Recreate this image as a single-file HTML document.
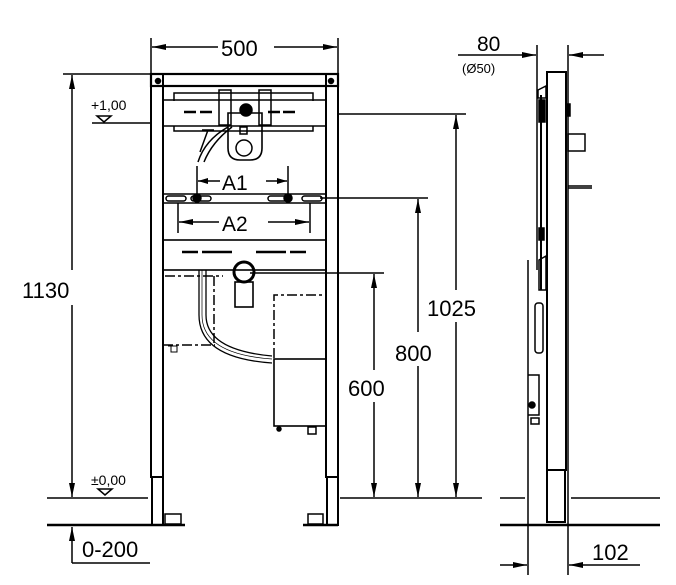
<!DOCTYPE html>
<html><head><meta charset="utf-8"><style>
html,body{margin:0;padding:0;background:#fff;width:676px;height:585px;overflow:hidden}
svg{display:block}
text{font-family:"Liberation Sans",Arial,sans-serif;fill:#000}
</style></head><body>
<svg width="676" height="585" viewBox="0 0 676 585" xmlns="http://www.w3.org/2000/svg">
<defs>
<marker id="a" viewBox="0 0 10 6" refX="10" refY="3" markerWidth="10" markerHeight="6" markerUnits="userSpaceOnUse" orient="auto"><path d="M0,0 L10,3 L0,6 z" fill="#000"/></marker>
<marker id="b" viewBox="0 0 14 6" refX="14" refY="3" markerWidth="14" markerHeight="6" markerUnits="userSpaceOnUse" orient="auto"><path d="M0,0 L14,3 L0,6 z" fill="#000"/></marker>
</defs>
<g stroke="#000" fill="none" stroke-width="1.5">
<line x1="151" y1="38" x2="151" y2="74"/><line x1="338" y1="38" x2="338" y2="74"/>
<line x1="218" y1="47" x2="152" y2="47" marker-end="url(#b)"/>
<line x1="274" y1="47" x2="337" y2="47" marker-end="url(#b)"/>
<line x1="63" y1="74" x2="150" y2="74"/>
<line x1="72" y1="270" x2="72" y2="75" marker-end="url(#b)"/>
<line x1="72" y1="305" x2="72" y2="497" marker-end="url(#b)"/>
<line x1="92" y1="123" x2="150" y2="123"/>
<path d="M97,116 L111,116 L104,122 z"/>
<line x1="47" y1="498" x2="148" y2="498"/>
<path d="M98,489 L112,489 L105,495 z"/>
<line x1="72" y1="563" x2="72" y2="527" marker-end="url(#b)"/>
<line x1="72" y1="563" x2="150" y2="563"/>
<line x1="47" y1="525" x2="185" y2="525" stroke-width="2.6"/>
<line x1="303" y1="525" x2="338" y2="525" stroke-width="2.6"/>
<rect x="151" y="74" width="187" height="12" stroke-width="2.2"/>
<rect x="151" y="74" width="12" height="403" stroke-width="2"/>
<rect x="326" y="74" width="12" height="403" stroke-width="2"/>
<rect x="152" y="477" width="11" height="48" stroke-width="2"/>
<rect x="327" y="477" width="11" height="48" stroke-width="2"/>
<rect x="165" y="514" width="16" height="10" stroke-width="1.5"/>
<rect x="308" y="514" width="15" height="10" stroke-width="1.5"/>
<circle cx="158" cy="81" r="2.5" fill="#000"/><circle cx="331" cy="81" r="2.5" fill="#000"/>
<path d="M174,101 L174,93 L313,93 L313,101"/>
<path d="M174,126 L174,131 L313,131 L313,126"/>
<rect x="163" y="100" width="163" height="26"/>
<rect x="219" y="90" width="12" height="35"/><rect x="259" y="90" width="12" height="35"/>
<path d="M228,113 L262,113 L262,148 Q262,160 250,160 L240,160 Q228,160 228,148 z" stroke-width="1.6"/>
<circle cx="244" cy="148" r="8"/>
<rect x="240" y="127" width="7" height="7"/>
<circle cx="246" cy="110" r="6" fill="#000"/>
<path d="M228,127 Q205,140 198,162 M232,127 Q212,142 204,162"/>
<path d="M202,130 L214,130 M208,130 L200,152"/>
<path d="M184,112 h12 M200,112 h12 M268,112 h12 M283,112 h12" stroke-width="2.5"/>
<line x1="197" y1="166" x2="197" y2="198"/><line x1="288" y1="166" x2="288" y2="198"/>
<line x1="220" y1="181" x2="198" y2="181" marker-end="url(#a)"/>
<line x1="266" y1="181" x2="287" y2="181" marker-end="url(#a)"/>
<rect x="163" y="194" width="163" height="9"/>
<rect x="166" y="196" width="20" height="5" rx="2.5"/><rect x="191" y="196" width="20" height="5" rx="2.5"/>
<rect x="268" y="196" width="20" height="5" rx="2.5"/><rect x="302" y="196" width="20" height="5" rx="2.5"/>
<circle cx="197" cy="198" r="4" fill="#000"/><circle cx="288" cy="198" r="4" fill="#000"/>
<line x1="178" y1="203" x2="178" y2="233"/><line x1="310" y1="203" x2="310" y2="233"/>
<line x1="219" y1="222" x2="179" y2="222" marker-end="url(#b)"/>
<line x1="268" y1="222" x2="309" y2="222" marker-end="url(#b)"/>
<rect x="163" y="240" width="163" height="30" stroke-width="1.6"/>
<path d="M182,252 h16 M202,252 h30 M256,252 h30 M290,252 h16" stroke-width="2.5"/>
<circle cx="244" cy="272" r="10" stroke-width="3"/>
<rect x="235" y="282" width="18" height="25" stroke-width="1.6"/>
<path d="M199,270 L199,315 Q199,358 272,363 M206,270 L206,315 Q206,350 272,356" stroke-width="1.3"/>
<path d="M202,270 L202,315 Q202,354 272,359" stroke-width="0.7"/>
<path d="M165,276 h58 M214,276 v69 M163,345 h52" stroke-dasharray="10,3,3,3"/>
<path d="M168,346 h9 v6 h-6 v-6" stroke-width="1"/>
<path d="M274,358 L274,295 L326,295" stroke-dasharray="10,3,3,3"/>
<rect x="274" y="359" width="52" height="67" stroke-width="1.6"/>
<circle cx="279" cy="429" r="2" fill="#000"/>
<rect x="308" y="427" width="8" height="7"/>
<line x1="338" y1="114" x2="466" y2="114"/>
<line x1="456" y1="290" x2="456" y2="115" marker-end="url(#b)"/>
<line x1="456" y1="322" x2="456" y2="497" marker-end="url(#b)"/>
<line x1="320" y1="198" x2="428" y2="198"/>
<line x1="418" y1="332" x2="418" y2="199" marker-end="url(#b)"/>
<line x1="418" y1="366" x2="418" y2="497" marker-end="url(#b)"/>
<line x1="250" y1="273" x2="384" y2="273"/>
<line x1="374" y1="370" x2="374" y2="274" marker-end="url(#b)"/>
<line x1="374" y1="402" x2="374" y2="497" marker-end="url(#b)"/>
<line x1="340" y1="498" x2="482" y2="498"/>
<line x1="537" y1="45" x2="537" y2="270"/><line x1="568" y1="45" x2="568" y2="575"/>
<line x1="528" y1="260" x2="528" y2="575"/>
<line x1="458" y1="55" x2="536" y2="55" marker-end="url(#b)"/>
<line x1="604" y1="55" x2="569" y2="55" marker-end="url(#b)"/>
<rect x="547" y="72" width="19" height="398" stroke-width="2"/>
<rect x="547" y="470" width="18" height="52" stroke-width="2"/>
<line x1="500" y1="525" x2="660" y2="525" stroke-width="2.4"/>
<line x1="500" y1="498" x2="525" y2="498"/><line x1="571" y1="498" x2="660" y2="498"/>
<path d="M538,90 L546,86 L546,98 L538,98 z" stroke-width="1.5"/>
<line x1="541" y1="95" x2="541" y2="290" stroke-width="2"/>
<rect x="539" y="100" width="6" height="22" fill="#000"/><rect x="539" y="228" width="5" height="12" fill="#000"/>
<rect x="567" y="104" width="3" height="12" fill="#000"/>
<rect x="568" y="134" width="17" height="17"/>
<line x1="568" y1="186" x2="592" y2="186"/><line x1="568" y1="188" x2="592" y2="188"/>
<path d="M539,260 L546,256 L546,290 L539,290 z"/>
<rect x="535" y="303" width="8" height="50" rx="3"/>
<path d="M528,375 h11 v40 h-11"/>
<circle cx="532" cy="405" r="3" fill="#000"/>
<rect x="531" y="418" width="8" height="6"/>
<line x1="597" y1="565" x2="569" y2="565" marker-end="url(#b)"/>
<line x1="597" y1="565" x2="640" y2="565"/>
<line x1="500" y1="565" x2="527" y2="565" marker-end="url(#b)"/>
</g>
<g font-size="22">
<text x="221" y="56">500</text>
<text x="22" y="298">1130</text>
<text x="222" y="190" font-size="21">A1</text>
<text x="222" y="231" font-size="21">A2</text>
<text x="427" y="316">1025</text>
<text x="395" y="361">800</text>
<text x="348" y="396">600</text>
<text x="82" y="557">0-200</text>
<text x="592" y="560">102</text>
<text x="477" y="51" font-size="21">80</text>
</g>
<text x="91" y="110" font-size="14">+1,00</text>
<text x="91" y="485" font-size="14">±0,00</text>
<text x="462" y="73" font-size="13">(Ø50)</text>
</svg>
</body></html>
